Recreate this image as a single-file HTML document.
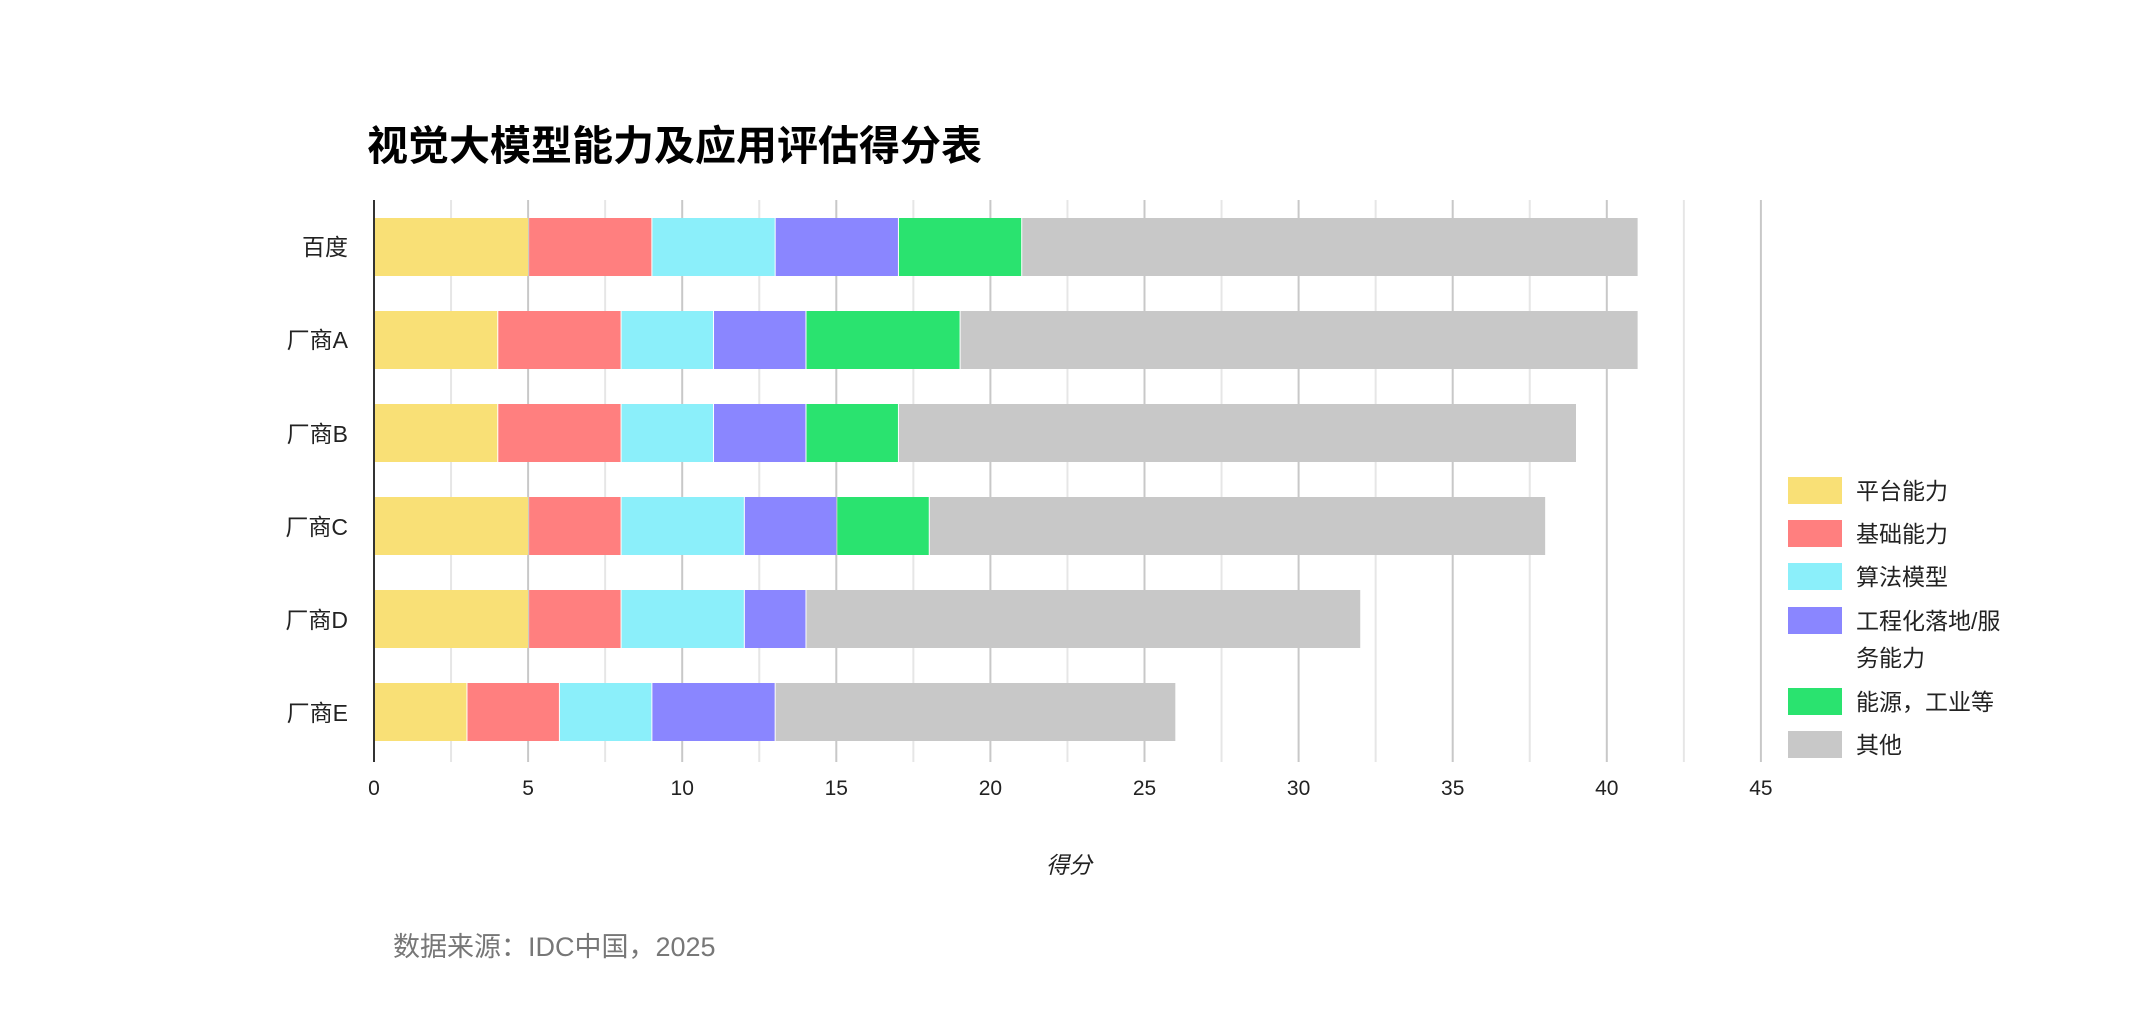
<!DOCTYPE html>
<html><head><meta charset="utf-8"><style>
html,body{margin:0;padding:0;background:#fff;}
svg{display:block;}
text{font-family:"Liberation Sans","Noto Sans CJK SC",sans-serif;}
</style></head><body>
<svg width="2135" height="1036" viewBox="0 0 2135 1036" xmlns="http://www.w3.org/2000/svg">
<rect width="2135" height="1036" fill="#fff"/>
<text x="367" y="160" font-size="41" font-weight="bold" fill="#000">视觉大模型能力及应用评估得分表</text>
<g id="grid"></g>
<g id="bars"></g>
<line x1="374" y1="200" x2="374" y2="762" stroke="#333" stroke-width="2"/>
<g font-size="23" fill="#222" text-anchor="end">
<text x="348" y="255">百度</text>
<text x="348" y="348">厂商A</text>
<text x="348" y="442">厂商B</text>
<text x="348" y="535">厂商C</text>
<text x="348" y="628">厂商D</text>
<text x="348" y="721">厂商E</text>
</g>
<g font-size="21" fill="#222" text-anchor="middle" id="ticks"></g>
<text x="1069" y="873" font-size="23" font-style="italic" fill="#222" text-anchor="middle">得分</text>
<text x="393" y="956" font-size="27" fill="#777">数据来源：IDC中国，2025</text>
<g font-size="23" fill="#222">
<rect x="1788" y="477" width="54" height="27" fill="#F9E076"/><text x="1856" y="499">平台能力</text>
<rect x="1788" y="520" width="54" height="27" fill="#FF7F7F"/><text x="1856" y="542">基础能力</text>
<rect x="1788" y="563" width="54" height="27" fill="#8BEFFA"/><text x="1856" y="585">算法模型</text>
<rect x="1788" y="607" width="54" height="27" fill="#8A86FF"/><text x="1856" y="629">工程化落地/服</text><text x="1856" y="666">务能力</text>
<rect x="1788" y="688" width="54" height="27" fill="#2AE36F"/><text x="1856" y="710">能源，工业等</text>
<rect x="1788" y="731" width="54" height="27" fill="#C8C8C8"/><text x="1856" y="753">其他</text>
</g>
<script>
var ns="http://www.w3.org/2000/svg",x0=374,u=30.82;
var g=document.getElementById('grid'),t=document.getElementById('ticks');
for(var i=1;i<=18;i++){var v=i*2.5,x=x0+v*u,l=document.createElementNS(ns,'line');
l.setAttribute('x1',x);l.setAttribute('x2',x);l.setAttribute('y1',200);l.setAttribute('y2',762);
l.setAttribute('stroke',i%2==0?'#c8c8c8':'#e6e6e6');l.setAttribute('stroke-width',2);g.appendChild(l);}
for(var i=0;i<=9;i++){var tx=document.createElementNS(ns,'text');tx.setAttribute('x',x0+i*5*u);tx.setAttribute('y',795);tx.textContent=i*5;t.appendChild(tx);}
var cols=['#F9E076','#FF7F7F','#8BEFFA','#8A86FF','#2AE36F','#C8C8C8'];
var data=[[5,4,4,4,4,20],[4,4,3,3,5,22],[4,4,3,3,3,22],[5,3,4,3,3,20],[5,3,4,2,0,18],[3,3,3,4,0,13]];
var tops=[218,311,404,497,590,683],b=document.getElementById('bars');
data.forEach(function(r,k){var s=0;r.forEach(function(v,j){if(!v)return;var rc=document.createElementNS(ns,'rect');
rc.setAttribute('x',x0+s*u+(s?1:0));rc.setAttribute('y',tops[k]);rc.setAttribute('width',v*u-(s?1:0));rc.setAttribute('height',58);rc.setAttribute('fill',cols[j]);b.appendChild(rc);s+=v;});});
</script>
</svg>
</body></html>
